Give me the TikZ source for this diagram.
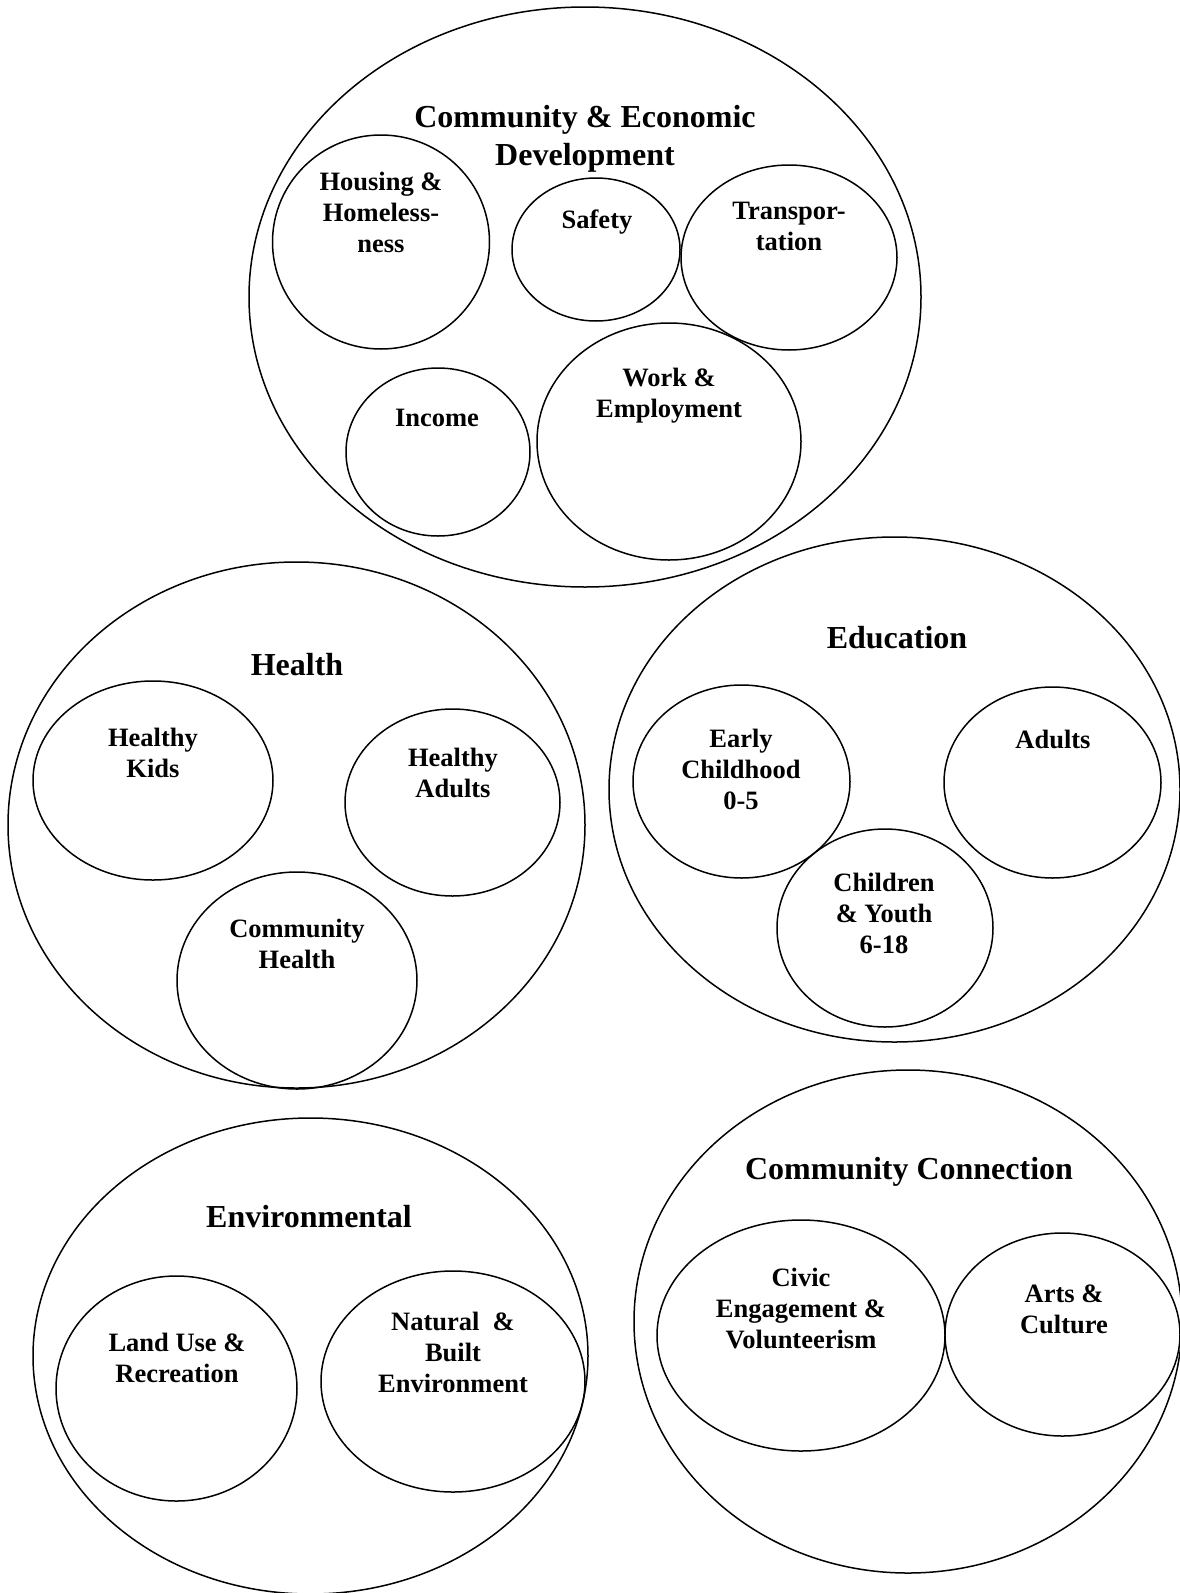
\documentclass[tikz,border=0pt]{standalone}
\usepackage{fontspec}
\setmainfont{Liberation Serif}
\usetikzlibrary{shapes.geometric}
\tikzset{
  blob/.style={draw=black, ellipse, line width=1.5pt, inner sep=0pt, outer sep=0pt},
  bigtitle/.style={font=\bfseries\fontsize{32}{38}\selectfont, align=center, inner sep=0pt},
  subtitle/.style={font=\bfseries\fontsize{26.5}{31}\selectfont, align=center, inner sep=0pt},
}
\newcommand{\blobat}[5]{\node[blob, minimum width=#4pt, minimum height=#5pt] (#1) at (#2,#3) {};}
\begin{document}
\begin{tikzpicture}[x=1pt,y=-1pt]
\useasboundingbox (0,0) rectangle (1180,1593);
\fill[white] (0,0) rectangle (1180,1593);

% Community & Economic Development
\blobat{ced}{585}{297}{672}{580}
\blobat{housing}{381}{242}{217}{214}
\blobat{safety}{596}{249.5}{168}{143}
\blobat{transport}{789}{257.5}{216}{185}
\blobat{income}{438}{452}{184}{168}
\blobat{work}{669}{441.5}{264}{237}
\node[bigtitle] (cedt) at (585,139) {Community \& Economic\\Development};
\node[subtitle] (housingt) at (381,212.5) {Housing \&\\Homeless-\\ness};
\node[subtitle] (safetyt) at (597,222) {Safety};
\node[subtitle] (transportt) at (789,226.5) {Transpor-\\tation};
\node[subtitle] (incomet) at (437,418) {Income};
\node[subtitle] (workt) at (669,396) {Work \&\\Employment};

% Health
\blobat{health}{296.5}{825}{577}{526}
\blobat{kids}{153}{780.5}{240}{199}
\blobat{hadults}{452.5}{802.5}{215}{187}
\blobat{chealth}{297}{980.5}{240}{217}
\node[bigtitle] (healtht) at (297,665) {Health};
\node[subtitle] (kidst) at (153,752.5) {Healthy\\Kids};
\node[subtitle] (hadultst) at (453,773) {Healthy\\Adults};
\node[subtitle] (chealtht) at (297,944) {Community\\Health};

% Education
\blobat{edu}{894.5}{789.5}{571}{505}
\blobat{early}{741.5}{781.5}{217}{193}
\blobat{eadults}{1052.5}{782.5}{217}{191}
\blobat{youth}{885}{928}{216}{198}
\node[bigtitle] (edut) at (897,638) {Education};
\node[subtitle] (earlyt) at (741,769) {Early\\Childhood\\0-5};
\node[subtitle] (eadultst) at (1053,739) {Adults};
\node[subtitle] (youtht) at (884,913) {Children\\\& Youth\\6-18};

% Environmental
\blobat{env}{310.5}{1356}{555}{476}
\blobat{land}{176.5}{1388.5}{241}{225}
\blobat{natural}{453}{1381.5}{264}{221}
\node[bigtitle] (envt) at (309,1217) {Environmental};
\node[subtitle] (landt) at (177,1358) {Land Use \&\\Recreation};
\node[subtitle] (naturalt) at (453,1352) {Natural\ \ \&\\Built\\Environment};

% Community Connection
\blobat{cc}{908}{1321.5}{548}{503}
\blobat{civic}{801}{1335.5}{288}{231}
\blobat{arts}{1062.5}{1334.5}{235}{203}
\node[bigtitle] (cct) at (909,1172) {Community Connection};
\node[subtitle] (civict) at (801,1308) {Civic\\Engagement \&\\Volunteerism};
\node[subtitle] (artst) at (1064,1309.5) {Arts \&\\Culture};
\end{tikzpicture}
\end{document}
